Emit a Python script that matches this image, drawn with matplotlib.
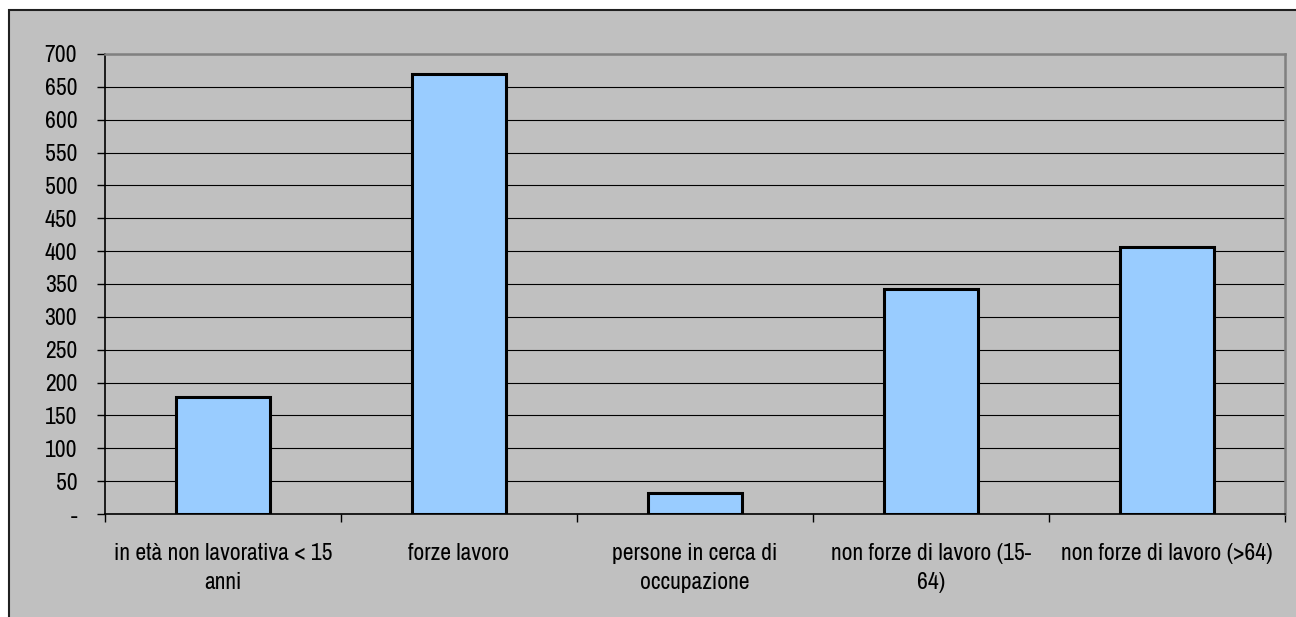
import matplotlib
matplotlib.use("Agg")
import matplotlib.pyplot as plt
from matplotlib.patches import Rectangle
from matplotlib.ticker import FixedLocator, FuncFormatter

plt.rcParams['font.family'] = ['Archivo Narrow', 'Liberation Sans', 'DejaVu Sans']

categories = [
    "in età non lavorativa < 15\nanni",
    "forze lavoro",
    "persone in cerca di\noccupazione",
    "non forze di lavoro (15-\n64)",
    "non forze di lavoro (>64)",
]
values = [178, 669, 32, 342, 407]
y_ticks = list(range(0, 701, 50))

bg = "#C0C0C0"
fig = plt.figure(figsize=(12.96, 6.17), dpi=100, facecolor="white")

# chart-area frame that runs past the right and bottom edges
frame = Rectangle((9 / 1296, -0.05), 1.2, 1 - 10 / 617 + 0.05,
                  transform=fig.transFigure, facecolor=bg,
                  edgecolor="#202020", linewidth=1.5, zorder=-5)
fig.patches.append(frame)

ax = fig.add_axes([105 / 1296, 1 - 514 / 617, (1285 - 105) / 1296, (514 - 54) / 617])
ax.set_zorder(2)
ax.set_facecolor(bg)

x = list(range(len(categories)))
ax.bar(x, values, width=0.4, color="#99CCFF", edgecolor="black",
       linewidth=2.2, zorder=3)

ax.set_xlim(-0.5, len(categories) - 0.5)
ax.set_ylim(0, 700)

ax.yaxis.set_major_locator(FixedLocator(y_ticks))
ax.yaxis.set_major_formatter(FuncFormatter(lambda v, p: "-" if v == 0 else f"{int(v)}"))
ax.grid(axis="y", color="black", linewidth=0.8, zorder=1)
ax.set_axisbelow(True)

ax.set_xticks([i + 0.5 for i in range(-1, len(categories))], minor=False)
ax.set_xticklabels([])
ax.set_xticks(x, minor=True)
ax.set_xticklabels(categories, minor=True, fontsize=17, linespacing=1.45)
ax.tick_params(axis="x", which="minor", length=0, pad=21)
ax.tick_params(axis="x", which="major", length=6, width=1, direction="out", color="black")
ax.tick_params(axis="y", length=6, width=1, direction="out", labelsize=17, pad=14)

for s in ("left", "bottom"):
    ax.spines[s].set_color("black")
    ax.spines[s].set_linewidth(1.2)
for s in ("top", "right"):
    ax.spines[s].set_color("#808080")
    ax.spines[s].set_linewidth(1.8)

fig.savefig("out.png", dpi=100, facecolor=fig.get_facecolor())
